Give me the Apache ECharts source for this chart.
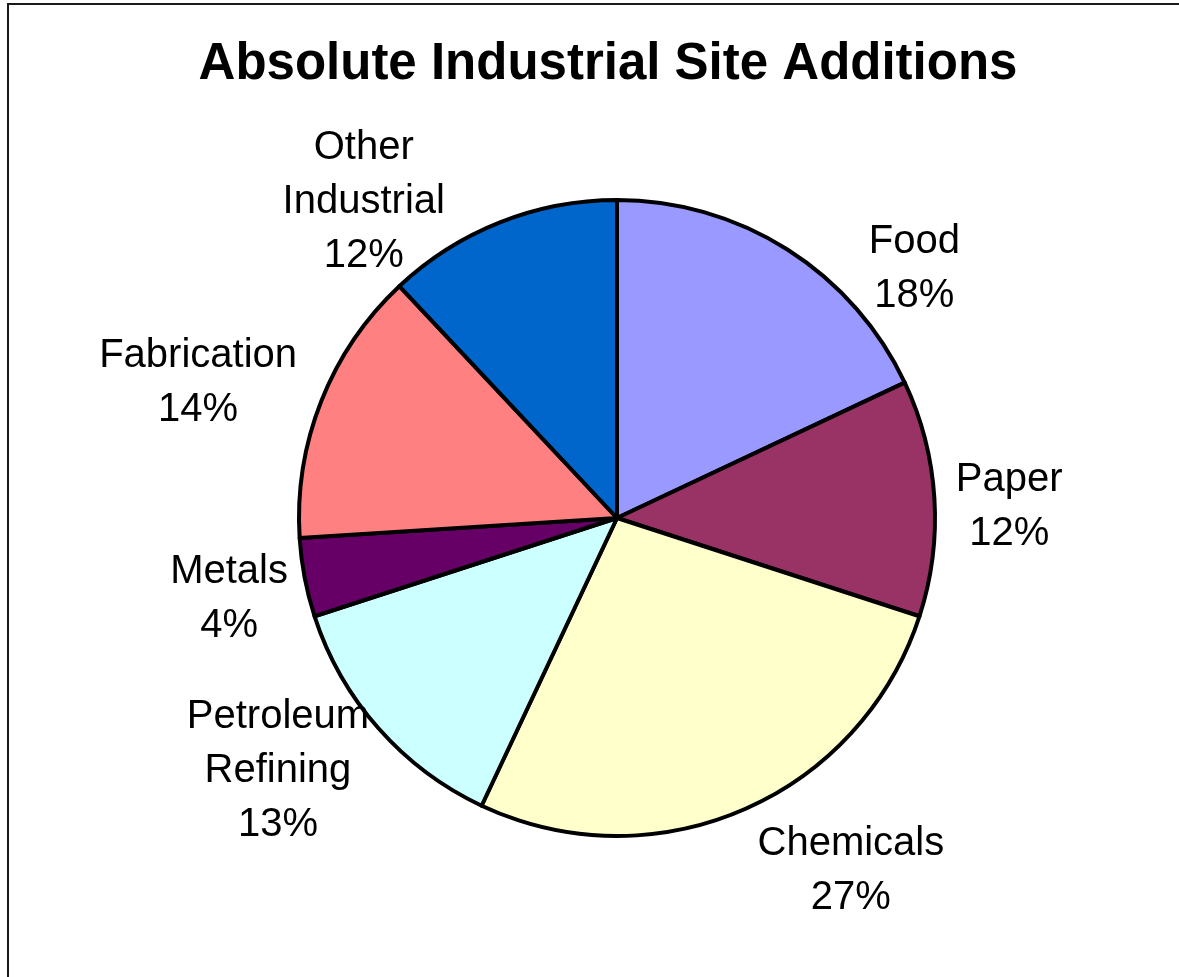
<!DOCTYPE html>
<html>
<head>
<meta charset="utf-8">
<style>
  html, body { margin: 0; padding: 0; background: #ffffff; }
  #chart { width: 1179px; height: 977px; }
</style>
<script src="https://cdn.jsdelivr.net/npm/echarts@6/dist/echarts.min.js"></script>
</head>
<body>
<div id="chart"></div>
<script>
// Industry categories and their share of absolute site additions (percent)
const categories = ['Food', 'Paper', 'Chemicals', 'Petroleum\nRefining', 'Metals', 'Fabrication', 'Other\nIndustrial'];
const shares = [18, 12, 27, 13, 4, 14, 12];
const sliceColors = ['#9999FF', '#993366', '#FFFFCC', '#CCFFFF', '#660066', '#FF8080', '#0066CC'];

// Pie geometry
const pieCenter = [617, 518];
const pieRadius = 318;
const labelGap = 82;          // label anchor distance beyond the rim
// Per-label fine placement relative to the radial anchor
const labelNudge = [[83, 89], [-7, 14], [75, -14], [-39, -12], [5, 6], [-47, 12], [-106, 56]];

const total = shares.reduce((a, b) => a + b, 0);
const midAngles = [];
let acc = 0;
shares.forEach(v => {
  midAngles.push(((acc + v / 2) / total) * 2 * Math.PI);
  acc += v;
});

const chart = echarts.init(document.getElementById('chart'));
const fontFamily = "'Liberation Sans', Arial, sans-serif";

chart.setOption({
  animation: false,
  backgroundColor: '#ffffff',
  title: {
    text: 'Absolute Industrial Site Additions',
    left: 603,
    textAlign: 'center',
    top: 34,
    textStyle: { fontFamily, fontSize: 51, fontWeight: 'bold', color: '#000' }
  },
  graphic: [{
    type: 'rect',
    shape: { x: 8, y: 4, width: 1300, height: 1100 },
    style: { fill: 'none', stroke: '#1a1a1a', lineWidth: 2 },
    silent: true
  }],
  series: [{
    type: 'pie',
    center: pieCenter,
    radius: pieRadius,
    startAngle: 90,
    clockwise: true,
    avoidLabelOverlap: false,
    itemStyle: { borderColor: '#000', borderWidth: 4 },
    label: {
      show: true,
      position: 'outside',
      fontFamily,
      fontSize: 40,
      lineHeight: 54,
      color: '#000',
      align: 'center',
      formatter: p => p.name + '\n' + Math.round(p.percent) + '%'
    },
    labelLine: { show: false },
    labelLayout: params => {
      const i = params.dataIndex;
      const a = midAngles[i];
      const r = pieRadius + labelGap;
      return {
        x: pieCenter[0] + r * Math.sin(a) + labelNudge[i][0],
        y: pieCenter[1] - r * Math.cos(a) + labelNudge[i][1],
        align: 'center',
        verticalAlign: 'middle'
      };
    },
    data: categories.map((name, i) => ({
      name,
      value: shares[i],
      itemStyle: { color: sliceColors[i] }
    }))
  }]
});
</script>
</body>
</html>
